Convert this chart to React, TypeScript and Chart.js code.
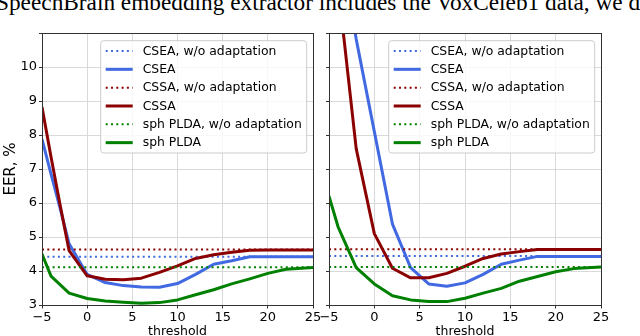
import React, { useEffect, useRef } from 'react';
import { Chart, registerables } from 'chart.js';

Chart.register(...registerables);

// ---------- data ----------
const xMin = -5;
const xMax = 25;
const yMin = 3;
const yMax = 11;

const seriesNames = [
  'CSEA, w/o adaptation',
  'CSEA',
  'CSSA, w/o adaptation',
  'CSSA',
  'sph PLDA, w/o adaptation',
  'sph PLDA',
];

// Left panel
const leftCseaX = [-5, -4, -3, -2, 0, 2, 4, 6, 8, 10, 12, 14, 16, 18, 20, 25];
const leftCseaY = [7.88, 6.85, 5.85, 4.8, 3.9, 3.66, 3.57, 3.53, 3.52, 3.63, 3.9, 4.2, 4.3, 4.42, 4.42, 4.42];
const leftCssaX = [-5, -4, -3, -2, 0, 2, 4, 6, 8, 10, 12, 14, 16, 18, 20, 25];
const leftCssaY = [8.82, 7.35, 5.95, 4.6, 3.86, 3.76, 3.74, 3.79, 3.96, 4.15, 4.37, 4.48, 4.55, 4.61, 4.62, 4.62];
const leftSphX = [-5, -4, -2, 0, 2, 4, 6, 8, 10, 12, 14, 16, 18, 20, 22, 25];
const leftSphY = [4.5, 3.85, 3.35, 3.19, 3.12, 3.08, 3.05, 3.07, 3.15, 3.3, 3.45, 3.62, 3.77, 3.93, 4.05, 4.1];
const leftBaseCsea = 4.42;
const leftBaseCssa = 4.63;
const leftBaseSph = 4.11;

// Right panel
const rightCseaX = [-5, -4, -2, 0, 2, 4, 6, 8, 10, 12, 14, 16, 18, 20, 25];
const rightCseaY = [16.5, 14, 10.82, 8.1, 5.38, 4.1, 3.62, 3.55, 3.65, 3.9, 4.2, 4.32, 4.43, 4.43, 4.43];
const rightCssaX = [-5, -4, -2, 0, 2, 4, 6, 8, 10, 12, 14, 16, 18, 20, 25];
const rightCssaY = [14.8, 12.4, 7.6, 5.1, 4.08, 3.8, 3.8, 3.93, 4.14, 4.37, 4.5, 4.57, 4.63, 4.63, 4.63];
const rightSphX = [-5, -4, -2, 0, 2, 4, 6, 8, 10, 12, 14, 16, 18, 20, 22, 25];
const rightSphY = [6.2, 5.3, 4.1, 3.62, 3.27, 3.15, 3.1, 3.1, 3.2, 3.35, 3.49, 3.7, 3.84, 3.98, 4.07, 4.12];
const rightBaseCsea = 4.44;
const rightBaseCssa = 4.64;
const rightBaseSph = 4.12;

const headerText = 'SpeechBrain embedding extractor includes the VoxCeleb1 data, we d';

// ---------- styles ----------
const BLUE = '#4169e1';
const RED = '#8b0000';
const GREEN = '#008000';
const FONT = 'DejaVu Sans';
const DOT = [2, 3.3];

const zip = (xs: number[], ys: number[]) => xs.map((x, i) => ({ x, y: ys[i] }));
const flat = (y: number) => [{ x: xMin, y }, { x: xMax, y }];

const legendItems = [
  { label: seriesNames[0], color: BLUE, dashed: true },
  { label: seriesNames[1], color: BLUE, dashed: false },
  { label: seriesNames[2], color: RED, dashed: true },
  { label: seriesNames[3], color: RED, dashed: false },
  { label: seriesNames[4], color: GREEN, dashed: true },
  { label: seriesNames[5], color: GREEN, dashed: false },
];

const framePlugin = {
  id: 'frameBox',
  afterDatasetsDraw(chart: any) {
    const { ctx, chartArea: a } = chart;
    ctx.save();
    ctx.strokeStyle = '#333';
    ctx.lineWidth = 1;
    ctx.strokeRect(Math.round(a.left) + 0.5, Math.round(a.top) + 0.5, Math.round(a.right - a.left), Math.round(a.bottom - a.top));
    ctx.restore();
  },
};

const legendPlugin = {
  id: 'boxLegend',
  afterDraw(chart: any) {
    const { ctx, chartArea: a } = chart;
    const w = 206;
    const h = 112.3;
    const right = a.right - 6.3;
    const left = right - w;
    const top = a.top + 7.7;
    ctx.save();
    ctx.beginPath();
    const r = 3;
    ctx.moveTo(left + r, top);
    ctx.lineTo(left + w - r, top);
    ctx.arcTo(left + w, top, left + w, top + r, r);
    ctx.lineTo(left + w, top + h - r);
    ctx.arcTo(left + w, top + h, left + w - r, top + h, r);
    ctx.lineTo(left + r, top + h);
    ctx.arcTo(left, top + h, left, top + h - r, r);
    ctx.lineTo(left, top + r);
    ctx.arcTo(left, top, left + r, top, r);
    ctx.closePath();
    ctx.fillStyle = 'rgba(255,255,255,0.8)';
    ctx.fill();
    ctx.strokeStyle = '#cccccc';
    ctx.lineWidth = 1;
    ctx.stroke();
    legendItems.forEach((it, i) => {
      const cy = top + 10.3 + i * 18.33;
      ctx.beginPath();
      ctx.strokeStyle = it.color;
      ctx.lineWidth = it.dashed ? 2 : 3;
      ctx.setLineDash(it.dashed ? DOT : []);
      ctx.moveTo(left + 5, cy);
      ctx.lineTo(left + 32, cy);
      ctx.stroke();
      ctx.setLineDash([]);
      ctx.fillStyle = '#000';
      ctx.font = `12.4px "${FONT}"`;
      ctx.textBaseline = 'middle';
      ctx.textAlign = 'left';
      ctx.fillText(it.label, left + 42, cy + 0.5);
    });
    ctx.restore();
  },
};

function makeDatasets(
  cseaX: number[], cseaY: number[], cssaX: number[], cssaY: number[], sphX: number[], sphY: number[],
  bCsea: number, bCssa: number, bSph: number,
) {
  // Chart.js draws dataset 0 last (on top); list in reverse of matplotlib draw order.
  return [
    { label: seriesNames[5], data: zip(sphX, sphY), borderColor: GREEN, borderWidth: 3 },
    { label: seriesNames[4], data: flat(bSph), borderColor: GREEN, borderWidth: 2, borderDash: DOT },
    { label: seriesNames[3], data: zip(cssaX, cssaY), borderColor: RED, borderWidth: 3 },
    { label: seriesNames[2], data: flat(bCssa), borderColor: RED, borderWidth: 2, borderDash: DOT },
    { label: seriesNames[1], data: zip(cseaX, cseaY), borderColor: BLUE, borderWidth: 3 },
    { label: seriesNames[0], data: flat(bCsea), borderColor: BLUE, borderWidth: 2, borderDash: DOT },
  ].map((d) => ({ ...d, pointRadius: 0, tension: 0, fill: false, borderJoinStyle: 'round' as const, backgroundColor: d.borderColor }));
}

function makeChart(canvas: HTMLCanvasElement, panel: 'left' | 'right') {
  const isLeft = panel === 'left';
  const datasets = isLeft
    ? makeDatasets(leftCseaX, leftCseaY, leftCssaX, leftCssaY, leftSphX, leftSphY, leftBaseCsea, leftBaseCssa, leftBaseSph)
    : makeDatasets(rightCseaX, rightCseaY, rightCssaX, rightCssaY, rightSphX, rightSphY, rightBaseCsea, rightBaseCssa, rightBaseSph);
  return new Chart(canvas, {
    type: 'line',
    data: { datasets },
    plugins: [framePlugin, legendPlugin],
    options: {
      animation: false,
      responsive: false,
      devicePixelRatio: 1,
      layout: {
        padding: isLeft ? { left: 0, right: 327, top: 33, bottom: 0 } : { left: 287, right: 39, top: 33, bottom: 0 },
      },
      plugins: { legend: { display: false }, tooltip: { enabled: false }, title: { display: false } },
      scales: {
        x: {
          type: 'linear',
          min: xMin,
          max: xMax,
          afterFit: (s: any) => { s.height = 31; },
          ticks: {
            stepSize: 5,
            padding: 1,
            color: '#000',
            font: { family: FONT, size: 13 },
            maxRotation: 0,
            callback: (v: any) => (v < 0 ? '\u2212' + Math.abs(v) : String(v)),
          },
          grid: { color: '#d9d9d9', lineWidth: 1, tickColor: '#333', tickLength: 3.5 },
          border: { display: false },
          title: {
            display: true,
            text: 'threshold',
            color: '#000',
            font: { family: FONT, size: 12.5, lineHeight: 0.72 },
            padding: { top: 0, bottom: 0 },
          },
        },
        y: {
          type: 'linear',
          min: yMin,
          max: yMax,
          afterFit: (s: any) => { s.width = 42; },
          ticks: {
            stepSize: 1,
            padding: 2,
            color: '#000',
            font: { family: FONT, size: 13 },
            callback: (v: any) => (isLeft && v < yMax ? String(v) : ''),
          },
          grid: { color: '#d9d9d9', lineWidth: 1, tickColor: '#333', tickLength: 3 },
          border: { display: false },
          title: {
            display: isLeft,
            text: 'EER, %',
            color: '#000',
            font: { family: FONT, size: 15, lineHeight: 1 },
            padding: { top: 4, bottom: 0 },
          },
        },
      },
    },
  } as any);
}

export default function App() {
  const leftRef = useRef<HTMLCanvasElement>(null);
  const rightRef = useRef<HTMLCanvasElement>(null);
  useEffect(() => {
    const a = makeChart(leftRef.current!, 'left');
    const b = makeChart(rightRef.current!, 'right');
    return () => { a.destroy(); b.destroy(); };
  }, []);
  const canvasStyle: React.CSSProperties = { position: 'absolute', left: 0, top: 0, width: 640, height: 336 };
  return (
    <div style={{ position: 'fixed', left: 0, top: 0, width: 640, height: 336, overflow: 'hidden', background: '#fff' }}>
      <div
        style={{
          position: 'absolute', left: -4, top: -10.5, whiteSpace: 'nowrap',
          fontFamily: '"Liberation Serif", "Times New Roman", serif', fontSize: 23.3, lineHeight: '24px', color: '#000',
        }}
      >
        {headerText}
      </div>
      <canvas ref={leftRef} width={640} height={336} style={canvasStyle} />
      <canvas ref={rightRef} width={640} height={336} style={canvasStyle} />
    </div>
  );
}
